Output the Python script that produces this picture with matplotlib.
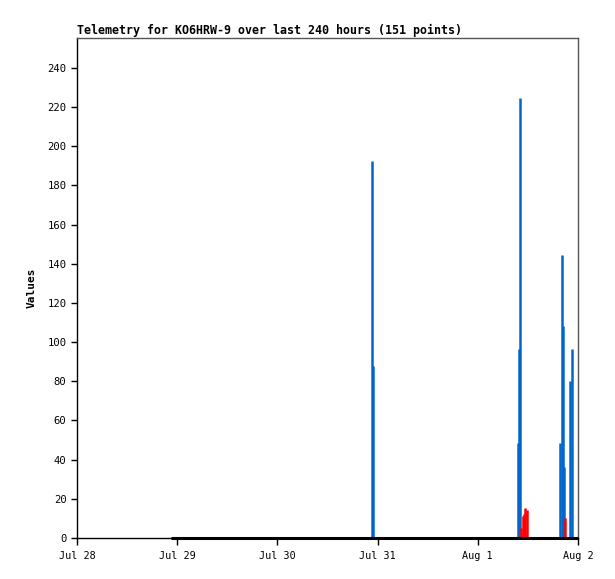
import matplotlib
matplotlib.use("Agg")
import matplotlib.pyplot as plt
import matplotlib.dates as mdates
import pandas as pd

# blue series (impulses)
blue_times = ["2024-07-30 22:40", "2024-07-30 22:55", "2024-08-01 09:34", "2024-08-01 09:48",
              "2024-08-01 10:06", "2024-08-01 19:42", "2024-08-01 20:10", "2024-08-01 20:24",
              "2024-08-01 20:38", "2024-08-01 22:06", "2024-08-01 22:34"]
blue_vals = [192.5, 88, 48.7, 96.5, 224.7, 48.7, 144.5, 108.3, 36.3, 80.2, 96.5]

# red series (impulses)
red_times = ["2024-08-01 10:28", "2024-08-01 10:44", "2024-08-01 11:00", "2024-08-01 11:25",
             "2024-08-01 11:44", "2024-08-01 20:50"]
red_vals = [5, 11, 12, 15.3, 14.3, 10.2]

# black series, sits at zero
black_times = ["2024-07-28 22:30", "2024-07-30 12:00", "2024-08-01 00:00", "2024-08-01 23:58"]
black_vals = [0, 0, 0, 0]

day_labels = ["Jul 28", "Jul 29", "Jul 30", "Jul 31", "Aug 1", "Aug 2"]
day_ticks = pd.date_range("2024-07-28", "2024-08-02", freq="D")

mono = "DejaVu Sans Mono"

fig = plt.figure(figsize=(6.15, 5.79), dpi=100)
ax = fig.add_axes([77 / 615, 41 / 579, 501 / 615, 500 / 579])

bt = pd.to_datetime(blue_times)
rt = pd.to_datetime(red_times)
kt = pd.to_datetime(black_times)

ax.vlines(bt, 0, blue_vals, color="#0066cc", lw=1.8, capstyle="butt")
ax.vlines(rt, 0, red_vals, color="#ff0000", lw=1.8, capstyle="butt")
ax.plot(kt, black_vals, color="black", lw=2.2, solid_capstyle="butt", zorder=3, clip_on=False)

ax.set_xlim(day_ticks[0], day_ticks[-1])
ax.set_ylim(0, 255.3)
ax.set_xticks(day_ticks)
ax.set_xticklabels(day_labels, family=mono, fontsize=7.3)
ax.set_yticks(range(0, 241, 20))
ax.set_yticklabels([str(v) for v in range(0, 241, 20)], family=mono, fontsize=7.6)
ax.tick_params(axis="y", direction="out", length=4.5, width=1, pad=3)
ax.tick_params(axis="x", direction="out", length=5, width=1, pad=4.5)

for s in ["left", "bottom"]:
    ax.spines[s].set_color("black")
    ax.spines[s].set_linewidth(1)
for s in ["top", "right"]:
    ax.spines[s].set_color("#555555")
    ax.spines[s].set_linewidth(1)

ax.set_ylabel("Values", family=mono, fontsize=8, fontweight="bold", labelpad=8)
ax.set_title("Telemetry for KO6HRW-9 over last 240 hours (151 points)",
             family=mono, fontsize=8.35, fontweight="bold", loc="left", pad=3)

fig.savefig("out.png", dpi=100)
